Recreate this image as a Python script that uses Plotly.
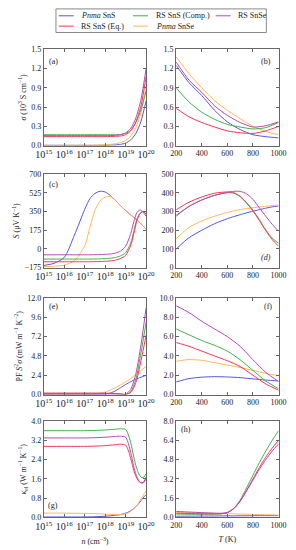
import plotly.graph_objects as go

# ---------------- data ----------------
NAMES = ["Pnma SnS", "RS SnS (Comp.)", "RS SnSe", "RS SnS (Eq.)", "Pnma SnSe"]
COLORS = {"Pnma SnS": "#5555e6", "RS SnS (Comp.)": "#40b048", "RS SnSe": "#b548b5",
          "RS SnS (Eq.)": "#ff3355", "Pnma SnSe": "#ffb65a"}
LEGEND_LABELS = {"Pnma SnS": "<i>Pnma</i> SnS", "RS SnS (Comp.)": "RS SnS (Comp.)",
                 "RS SnSe": "RS SnSe", "RS SnS (Eq.)": "RS SnS (Eq.)", "Pnma SnSe": "<i>Pnma</i> SnSe"}

# (a) sigma vs log10 n
A_LOGN = [15, 16, 17, 17.5, 18, 18.5, 18.75, 19, 19.25, 19.5, 19.75, 20]
A = {
    "Pnma SnS":       [0.005, 0.005, 0.005, 0.005, 0.006, 0.012, 0.02, 0.04, 0.09, 0.19, 0.38, 0.70],
    "Pnma SnSe":      [0.005, 0.005, 0.006, 0.008, 0.015, 0.03, 0.05, 0.08, 0.15, 0.28, 0.52, 0.93],
    "RS SnS (Comp.)": [0.17, 0.17, 0.17, 0.17, 0.17, 0.17, 0.175, 0.19, 0.24, 0.36, 0.56, 0.85],
    "RS SnS (Eq.)":   [0.14, 0.14, 0.14, 0.14, 0.14, 0.145, 0.15, 0.17, 0.23, 0.37, 0.62, 1.08],
    "RS SnSe":        [0.155, 0.155, 0.155, 0.155, 0.155, 0.16, 0.17, 0.20, 0.27, 0.43, 0.72, 1.20],
}
# (b) sigma vs T
T9 = [200, 300, 400, 500, 600, 700, 800, 900, 1000]
B = {
    "Pnma SnS":       [1.25, 0.98, 0.78, 0.55, 0.37, 0.25, 0.17, 0.14, 0.12],
    "Pnma SnSe":      [1.38, 1.12, 0.90, 0.70, 0.55, 0.42, 0.30, 0.22, 0.17],
    "RS SnS (Comp.)": [0.90, 0.68, 0.52, 0.41, 0.33, 0.29, 0.26, 0.28, 0.36],
    "RS SnS (Eq.)":   [0.58, 0.45, 0.36, 0.29, 0.23, 0.20, 0.19, 0.23, 0.30],
    "RS SnSe":        [1.30, 1.02, 0.83, 0.62, 0.47, 0.36, 0.29, 0.31, 0.37],
}
# (c) S vs log10 n
C_LOGN = [15, 15.5, 16, 16.5, 17, 17.25, 17.5, 17.75, 18, 18.25, 18.5, 18.75, 19, 19.25, 19.4, 19.55, 19.7, 19.85, 20]
C = {
    "Pnma SnS":       [-155, -135, -80, 130, 370, 470, 520, 540, 533, 500, 455, 405, 360, 318, 295, 270, 245, 215, 185],
    "Pnma SnSe":      [-165, -162, -152, -110, 30, 200, 360, 450, 485, 490, 455, 405, 360, 318, 295, 270, 245, 215, 185],
    "RS SnS (Comp.)": [-95, -95, -95, -95, -95, -95, -94, -93, -91, -87, -80, -65, -35, 55, 165, 280, 335, 352, 330],
    "RS SnS (Eq.)":   [-120, -120, -120, -120, -120, -120, -119, -118, -116, -112, -105, -90, -60, 35, 145, 265, 328, 350, 325],
    "RS SnSe":        [-55, -55, -55, -55, -55, -55, -54, -53, -51, -47, -39, -20, 25, 145, 255, 340, 365, 345, 305],
}
# (d) S vs T
D_T = [200, 300, 400, 500, 600, 650, 700, 750, 800, 850, 900, 950, 1000]
D = {
    "Pnma SnS":       [100, 160, 200, 235, 262, 273, 283, 293, 302, 310, 318, 325, 330],
    "Pnma SnSe":      [155, 215, 250, 275, 295, 303, 310, 316, 320, 325, 328, 332, 335],
    "RS SnS (Comp.)": [275, 328, 362, 386, 400, 398, 382, 348, 307, 257, 202, 158, 130],
    "RS SnS (Eq.)":   [310, 350, 378, 398, 405, 401, 380, 345, 303, 252, 198, 150, 115],
    "RS SnSe":        [280, 327, 362, 387, 403, 408, 408, 395, 365, 320, 275, 232, 195],
}
# (e) PF vs log10 n
E_LOGN = [15, 16, 17, 17.5, 18, 18.25, 18.5, 18.75, 19, 19.25, 19.5, 19.75, 20]
E = {
    "Pnma SnS":       [0.0, 0.0, 0.002, 0.01, 0.06, 0.18, 0.45, 0.85, 1.25, 1.6, 1.9, 2.15, 2.4],
    "Pnma SnSe":      [0.0, 0.0, 0.01, 0.08, 0.3, 0.55, 0.85, 1.2, 1.55, 2.0, 2.5, 3.0, 3.5],
    "RS SnS (Comp.)": [0.14, 0.14, 0.14, 0.14, 0.13, 0.12, 0.10, 0.06, 0.02, 0.35, 1.9, 5.2, 9.0],
    "RS SnS (Eq.)":   [0.17, 0.17, 0.17, 0.17, 0.16, 0.15, 0.13, 0.08, 0.02, 0.25, 1.5, 4.2, 7.4],
    "RS SnSe":        [0.04, 0.04, 0.04, 0.04, 0.04, 0.04, 0.03, 0.01, 0.03, 0.65, 2.6, 6.2, 10.8],
}
# (f) PF vs T
F = {
    "Pnma SnS":       [1.3, 1.65, 1.8, 1.85, 1.82, 1.75, 1.62, 1.5, 1.4],
    "Pnma SnSe":      [3.45, 3.62, 3.55, 3.3, 3.05, 2.8, 2.5, 2.2, 1.95],
    "RS SnS (Comp.)": [6.8, 6.2, 5.6, 5.1, 4.5, 3.6, 2.5, 1.4, 0.6],
    "RS SnS (Eq.)":   [5.4, 5.0, 4.5, 4.0, 3.5, 2.9, 2.0, 1.1, 0.45],
    "RS SnSe":        [9.2, 8.5, 7.6, 6.8, 6.0, 5.0, 3.6, 2.3, 1.35],
}
# (g) kappa_el vs log10 n
G_LOGN = [15, 16, 17, 17.5, 18, 18.5, 18.75, 19, 19.1, 19.25, 19.4, 19.5, 19.6, 19.7, 19.8, 19.9, 20]
G = {
    "Pnma SnS":       [0.02, 0.02, 0.02, 0.03, 0.05, 0.09, 0.12, 0.18, 0.21, 0.28, 0.37, 0.45, 0.54, 0.64, 0.75, 0.86, 0.95],
    "Pnma SnSe":      [0.18, 0.18, 0.17, 0.16, 0.14, 0.12, 0.12, 0.15, 0.18, 0.25, 0.36, 0.45, 0.56, 0.70, 0.85, 0.98, 1.10],
    "RS SnS (Comp.)": [3.6, 3.6, 3.6, 3.61, 3.63, 3.66, 3.68, 3.65, 3.5, 3.1, 2.5, 2.15, 1.9, 1.72, 1.65, 1.68, 1.82],
    "RS SnS (Eq.)":   [2.95, 2.95, 2.95, 2.96, 2.98, 3.02, 3.04, 3.0, 2.85, 2.45, 1.95, 1.7, 1.55, 1.45, 1.43, 1.47, 1.6],
    "RS SnSe":        [3.3, 3.3, 3.3, 3.31, 3.33, 3.36, 3.37, 3.33, 3.15, 2.7, 2.1, 1.8, 1.6, 1.47, 1.43, 1.5, 1.68],
}
# (h) kappa_el vs T
H_T = [200, 300, 400, 500, 550, 600, 650, 700, 750, 800, 850, 900, 950, 1000]
H = {
    "Pnma SnS":       [0.10, 0.11, 0.12, 0.12, 0.13, 0.13, 0.13, 0.14, 0.14, 0.14, 0.15, 0.15, 0.15, 0.15],
    "Pnma SnSe":      [0.42, 0.39, 0.36, 0.33, 0.32, 0.31, 0.30, 0.28, 0.27, 0.25, 0.24, 0.23, 0.22, 0.20],
    "RS SnS (Comp.)": [0.28, 0.27, 0.27, 0.28, 0.30, 0.40, 0.75, 1.45, 2.45, 3.5, 4.55, 5.5, 6.4, 7.2],
    "RS SnS (Eq.)":   [0.35, 0.33, 0.31, 0.30, 0.31, 0.40, 0.72, 1.35, 2.25, 3.2, 4.15, 5.0, 5.75, 6.4],
    "RS SnSe":        [0.50, 0.45, 0.40, 0.36, 0.35, 0.42, 0.75, 1.35, 2.2, 3.1, 4.0, 4.8, 5.5, 6.1],
}

# ---------------- layout helpers ----------------
W, HH = 296, 550
FONT = "Liberation Serif, Times New Roman, serif"
def px(x): return x / W
def py(y): return 1 - y / HH

LEFT = [px(37), px(146)]
RIGHT = [px(178), px(287)]
ROWS = [(46, 144), (173, 268), (299, 397), (424, 522)]

fig = go.Figure()
DRAW_ORDER = ["Pnma SnS", "Pnma SnSe", "RS SnS (Comp.)", "RS SnS (Eq.)", "RS SnSe"]

def add_panel(idx, x, data, logx):
    xs = [10.0 ** v for v in x] if logx else x
    for name in DRAW_ORDER:
        fig.add_trace(go.Scatter(
            x=xs, y=data[name], mode="lines", showlegend=False,
            line=dict(color=COLORS[name], width=1, shape="spline", smoothing=0.7),
            xaxis="x" + ("" if idx == 1 else str(idx)),
            yaxis="y" + ("" if idx == 1 else str(idx)), name=name))

add_panel(1, A_LOGN, A, True)
add_panel(2, T9, B, False)
add_panel(3, C_LOGN, C, True)
add_panel(4, D_T, D, False)
add_panel(5, E_LOGN, E, True)
add_panel(6, T9, F, False)
add_panel(7, G_LOGN, G, True)
add_panel(8, H_T, H, False)

tickfont = dict(family=FONT, size=8, color="#222")
titlefont = dict(family=FONT, size=8, color="#222")
axcommon = dict(showgrid=False, zeroline=False, showline=True, linecolor="#666", linewidth=1,
                mirror="ticks", ticks="inside", ticklen=3, tickcolor="#666", tickfont=tickfont)

YSPEC = {
    1: dict(range=[0, 1.5], tickvals=[0, 0.3, 0.6, 0.9, 1.2, 1.5], tickformat=".1f",
            title="<i>σ</i> (10<sup>3</sup> S cm<sup>−1</sup>)"),
    2: dict(range=[0, 1.5], tickvals=[0, 0.3, 0.6, 0.9, 1.2, 1.5], tickformat=".1f"),
    3: dict(range=[-175, 700], tickvals=[-175, 0, 175, 350, 525, 700],
            title="<i>S</i> (μV K<sup>−1</sup>)"),
    4: dict(range=[0, 500], tickvals=[0, 100, 200, 300, 400, 500]),
    5: dict(range=[0, 12], tickvals=[0, 2.4, 4.8, 7.2, 9.6, 12], tickformat=".1f",
            title="PF <i>S</i><sup>2</sup><i>σ</i> (mW m<sup>−1</sup> K<sup>−2</sup>)"),
    6: dict(range=[0, 10], tickvals=[0, 2, 4, 6, 8, 10], tickformat=".1f"),
    7: dict(range=[0, 4], tickvals=[0, 0.8, 1.6, 2.4, 3.2, 4.0], tickformat=".1f",
            title="<i>κ</i><sub>el</sub> (W m<sup>−1</sup> K<sup>−1</sup>)"),
    8: dict(range=[0, 8], tickvals=[0, 1.6, 3.2, 4.8, 6.4, 8.0], tickformat=".1f"),
}

layout = dict(width=W, height=HH, margin=dict(l=0, r=0, t=0, b=0),
              paper_bgcolor="white", plot_bgcolor="white", showlegend=False,
              font=dict(family=FONT, size=8, color="#222"))

for i in range(1, 9):
    row = (i - 1) // 2
    left = (i % 2 == 1)
    xk = "xaxis" + ("" if i == 1 else str(i))
    yk = "yaxis" + ("" if i == 1 else str(i))
    xa = dict(axcommon, domain=LEFT if left else RIGHT, anchor="y" + ("" if i == 1 else str(i)))
    if left:
        xa.update(type="log", range=[15, 20], dtick=1, exponentformat="power", showexponent="all")
        if i == 7:
            xa.update(title=dict(text="<i>n</i> (cm<sup>−3</sup>)", font=titlefont, standoff=7))
    else:
        xa.update(range=[200, 1000], tickvals=[200, 400, 600, 800, 1000])
        if i == 8:
            xa.update(title=dict(text="<i>T</i> (K)", font=titlefont, standoff=7))
    top, bot = ROWS[row]
    ys = YSPEC[i]
    ya = dict(axcommon, domain=[py(bot), py(top)], anchor="x" + ("" if i == 1 else str(i)),
              range=ys["range"], tickvals=ys["tickvals"])
    if "tickformat" in ys:
        ya["tickformat"] = ys["tickformat"]
    if "title" in ys:
        ya["title"] = dict(text=ys["title"], font=titlefont, standoff=3)
    layout[xk] = xa
    layout[yk] = ya

fig.update_layout(**layout)

# panel labels
PANEL_LABELS = [("(a)", 47, 58), ("(b)", 274, 58), ("(c)", 47, 183), ("<i>(d)</i>", 274, 258),
                ("(e)", 47, 308), ("(f)", 276, 308), ("(g)", 47, 510), ("(h)", 188, 433)]
for txt, x, y in PANEL_LABELS:
    fig.add_annotation(x=px(x), y=py(y), xref="paper", yref="paper", text=txt, showarrow=False,
                       font=dict(family=FONT, size=8, color="#222"), xanchor="center", yanchor="middle")

# legend (manual box)
fig.add_shape(type="rect", xref="paper", yref="paper", x0=px(50), x1=px(274), y0=py(29), y1=py(5),
              line=dict(color="#888", width=1), fillcolor="white")
LEG_POS = {"Pnma SnS": (53, 12), "RS SnS (Comp.)": (132, 12), "RS SnSe": (220, 12),
           "RS SnS (Eq.)": (53, 22.5), "Pnma SnSe": (132, 22.5)}
for name in NAMES:
    x, y = LEG_POS[name]
    fig.add_shape(type="line", xref="paper", yref="paper", x0=px(x), x1=px(x + 16), y0=py(y), y1=py(y),
                  line=dict(color=COLORS[name], width=1))
    fig.add_annotation(x=px(x + 22), y=py(y), xref="paper", yref="paper", text=LEGEND_LABELS[name],
                       showarrow=False, xanchor="left", yanchor="middle",
                       font=dict(family=FONT, size=8, color="#222"))

fig.write_html("out.html", config={"displayModeBar": False},
               post_script="document.body.style.margin='0';")
